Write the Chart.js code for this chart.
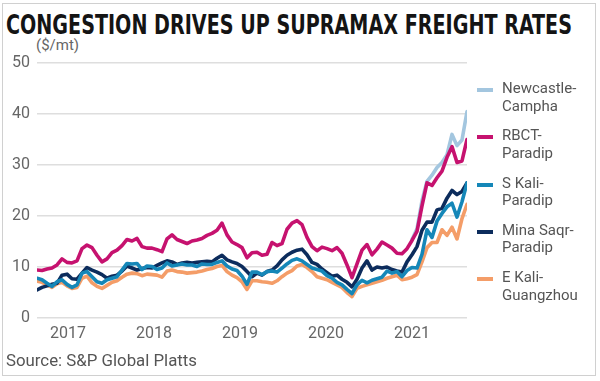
<!DOCTYPE html>
<html>
<head>
<meta charset="utf-8">
<script src="https://cdn.jsdelivr.net/npm/chart.js@4.4.1/dist/chart.umd.min.js"></script>
<style>
html,body{margin:0;padding:0;background:#fff;width:600px;height:381px;overflow:hidden;font-family:Roboto,"Open Sans",sans-serif;}
#frame{position:absolute;left:2px;top:3px;width:592px;height:371px;border:1px solid #d0d0d0;}
#title{position:absolute;left:6px;top:10px;font-family:"Liberation Sans Narrow","DejaVu Sans Condensed",sans-serif;font-weight:bold;font-size:26px;line-height:30px;color:#141414;white-space:nowrap;transform-origin:0 0;}
#unit{position:absolute;left:36px;top:36px;font-size:15px;line-height:18px;color:#666;white-space:nowrap;}
#source{position:absolute;left:6px;top:351px;font-size:16px;line-height:20px;color:#555;white-space:nowrap;transform-origin:0 0;}
#legend{position:absolute;left:477px;top:80px;}
.item{position:absolute;left:0;width:120px;height:40px;}
.mark{position:absolute;left:0;top:8px;width:16px;height:4px;}
.txt{position:absolute;left:25px;top:0;font-size:15px;line-height:17.5px;color:#555;white-space:nowrap;}
canvas{position:absolute;left:0;top:0;}
</style>
</head>
<body>
<div id="frame"></div>
<div id="title">CONGESTION DRIVES UP SUPRAMAX FREIGHT RATES</div>
<div id="unit">($/mt)</div>
<canvas id="c" width="600" height="381"></canvas>
<div id="legend"></div>
<div id="source">Source: S&amp;P Global Platts</div>
<script>
// ---- data ----
const tickYears = [2017, 2018, 2019, 2020, 2021];
const startYear = 2016.64;      // first observation (approx. Aug 2016)
const stepYears = 5 / 86;       // spacing between observations (~3 weeks)

const seriesNames = [
  ["Newcastle-", "Campha"],
  ["RBCT-", "Paradip"],
  ["S Kali-", "Paradip"],
  ["Mina Saqr-", "Paradip"],
  ["E Kali-", "Guangzhou"]
];
const seriesColors = ["#a3c6df", "#c6126f", "#1587b8", "#0c2c5c", "#f49d68"];

const newcastleStart = 75;
const newcastle = [15.4, 17.5, 23.0, 26.8, 28.0, 29.5, 30.5, 32.0, 36.0, 33.8, 34.9, 40.5];

const rbct = [9.4, 9.3, 9.6, 9.8, 10.4, 11.6, 10.9, 10.8, 11.2, 13.6,
  14.3, 13.8, 12.3, 11.0, 11.6, 12.8, 13.3, 14.2, 15.4, 15.1,
  15.6, 14.0, 13.7, 13.7, 13.4, 13.0, 15.5, 16.3, 15.4, 15.0,
  14.6, 15.1, 15.3, 15.6, 16.2, 16.6, 17.2, 18.6, 16.3, 14.9,
  14.4, 13.8, 11.8, 12.8, 12.9, 12.3, 12.5, 14.8, 14.2, 14.6,
  17.4, 18.6, 19.1, 18.3, 15.8, 14.0, 13.2, 13.9, 13.6, 13.2,
  13.8, 12.7, 10.4, 7.9, 10.6, 13.3, 14.4, 12.4, 13.5, 14.9,
  14.3, 13.7, 12.7, 12.6, 13.6, 15.2, 17.0, 22.0, 26.5, 26.0,
  27.5, 28.8, 31.5, 33.6, 30.5, 30.8, 35.0];

const sKali = [7.8, 7.5, 6.8, 6.2, 7.1, 7.5, 6.6, 6.0, 6.5, 8.8,
  9.1, 8.1, 7.1, 6.8, 7.5, 7.8, 8.1, 9.4, 10.7, 10.6,
  10.7, 9.5, 10.2, 10.1, 9.5, 9.8, 10.8, 10.2, 10.4, 10.6,
  10.4, 10.4, 10.1, 10.6, 10.5, 10.5, 10.9, 11.2, 10.2, 9.6,
  9.3, 8.2, 6.6, 9.0, 9.0, 8.5, 9.1, 9.2, 9.0, 9.8,
  10.6, 11.3, 11.6, 11.2, 10.5, 9.8, 9.5, 9.2, 8.3, 7.8,
  7.0, 6.5, 5.6, 4.8, 6.5, 7.4, 6.9, 7.4, 7.7, 8.0,
  9.2, 8.8, 9.1, 8.1, 9.3, 9.9, 9.8, 12.5, 17.3, 15.8,
  19.0, 20.5, 21.8, 22.5, 19.8, 22.8, 26.5];

const minaSaqr = [5.5, 6.0, 6.3, 6.6, 6.8, 8.4, 8.6, 7.7, 7.6, 8.8,
  9.9, 9.4, 9.0, 8.5, 7.8, 8.2, 8.4, 9.2, 10.2, 9.8,
  9.4, 9.7, 9.9, 9.8, 10.3, 10.8, 11.2, 11.0, 10.5, 10.8,
  10.9, 10.8, 10.9, 11.0, 11.1, 11.0, 11.7, 12.3, 11.4, 11.0,
  10.7, 10.1, 9.1, 8.1, 8.8, 8.4, 9.1, 9.4, 10.2, 11.4,
  12.3, 12.9, 13.3, 13.5, 12.4, 10.9, 10.5, 9.6, 8.9, 8.2,
  8.4, 7.6, 7.0, 6.1, 7.6, 9.8, 11.2, 9.4, 10.0, 9.8,
  10.0, 9.5, 9.2, 9.0, 11.0, 12.4, 14.0, 17.2, 18.8, 18.8,
  21.2, 21.5, 23.5, 25.0, 24.2, 24.8, 26.5];

const eKali = [7.2, 7.0, 6.5, 6.0, 6.7, 7.0, 6.3, 5.8, 6.0, 7.8,
  8.2, 6.9, 6.2, 5.8, 6.4, 7.0, 7.3, 8.0, 8.6, 8.8,
  8.7, 8.3, 8.6, 8.5, 8.4, 8.0, 9.2, 9.4, 9.1, 9.0,
  8.8, 8.9, 9.0, 9.2, 9.5, 9.7, 10.1, 10.3, 9.1, 8.4,
  7.9, 7.1, 5.6, 7.3, 7.3, 7.1, 7.0, 6.8, 7.3, 8.1,
  8.8, 9.3, 10.2, 10.5, 9.9, 9.1, 8.1, 7.8, 7.5, 7.0,
  6.5, 6.0, 5.0, 4.2, 5.8, 6.2, 6.5, 6.8, 7.1, 7.4,
  7.8, 8.1, 8.4, 7.5, 7.7, 8.0, 8.5, 11.0, 13.8, 14.8,
  14.8, 17.3, 16.2, 17.8, 15.5, 19.5, 22.3];

// ---- build chart ----
const xOf = i => startYear + i * stepYears;
const toPoints = (arr, offset) => arr.map((v, i) => ({x: xOf(i + offset), y: v}));
const seriesData = [
  toPoints(newcastle, newcastleStart),
  toPoints(rbct, 0),
  toPoints(sKali, 0),
  toPoints(minaSaqr, 0),
  toPoints(eKali, 0)
];
// drawing order: lower "order" is drawn on top
const drawOrder = [1, 0, 2, 3, 4];

const datasets = seriesNames.map((n, i) => ({
  label: n.join(""),
  data: seriesData[i],
  borderColor: seriesColors[i],
  backgroundColor: seriesColors[i],
  order: drawOrder[i]
}));

const tickFont = {family: "Roboto, 'Open Sans', sans-serif", size: 16};

new Chart(document.getElementById('c'), {
  type: 'line',
  data: {datasets},
  options: {
    responsive: false,
    animation: false,
    layout: {padding: {left: 0, right: 133, top: 63, bottom: 33}},
    plugins: {legend: {display: false}, tooltip: {enabled: false}, title: {display: false}},
    elements: {
      point: {radius: 0, hoverRadius: 0},
      line: {borderWidth: 3.6, tension: 0, borderJoinStyle: 'round', borderCapStyle: 'round'}
    },
    scales: {
      x: {
        type: 'linear',
        min: startYear,
        max: startYear + 86 * stepYears,
        grid: {display: false, drawTicks: false},
        border: {display: false},
        afterBuildTicks: s => { s.ticks = tickYears.map(v => ({value: v})); },
        ticks: {padding: 6, color: '#666', font: tickFont, autoSkip: false, maxRotation: 0,
                callback: v => String(v)},
        afterFit: s => { s.height = 30; }
      },
      y: {
        min: 0, max: 50,
        grid: {color: '#dedede', lineWidth: 1.5, drawTicks: false},
        border: {display: false},
        ticks: {stepSize: 10, padding: 7, color: '#666', font: tickFont},
        afterFit: s => { s.width = 37; }
      }
    }
  }
});

// ---- legend (HTML) ----
const leg = document.getElementById('legend');
seriesNames.forEach((n, i) => {
  const it = document.createElement('div');
  it.className = 'item';
  it.style.top = (i * 47.3) + 'px';
  const m = document.createElement('div');
  m.className = 'mark';
  m.style.background = seriesColors[i];
  const t = document.createElement('div');
  t.className = 'txt';
  t.innerHTML = n.join('<br>');
  it.appendChild(m); it.appendChild(t);
  leg.appendChild(it);
});

// fit text widths to the reference
function fit(id, w) {
  const el = document.getElementById(id);
  const cw = el.getBoundingClientRect().width;
  if (cw > 0) el.style.transform = 'scaleX(' + (w / cw) + ')';
}
fit('title', 566);
fit('source', 191);
</script>
</body>
</html>
